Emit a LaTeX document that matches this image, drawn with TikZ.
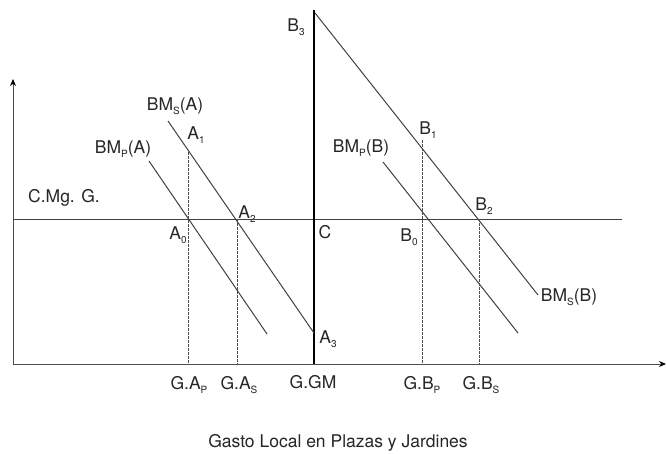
\documentclass[tikz,border=0pt]{standalone}
\usepackage{fontspec}
\setmainfont{TeX Gyre Heros}
\usetikzlibrary{arrows.meta}
\newcommand{\lowsub}[1]{\raisebox{-4.5pt}{\fontsize{10}{10}\selectfont #1}}

\begin{document}
\begin{tikzpicture}[x=1pt, y=-1pt, line width=0.8pt]
	\tikzstyle{axis}=[draw=black!70, line width=1pt]
	\tikzstyle{tip}=[-{Stealth[length=7pt,width=6pt,black]}]
	\tikzstyle{curve}=[draw=black!75, line width=1pt]
	\tikzstyle{guide}=[draw=black!70, line width=1pt, dash pattern=on 2.5pt off 1.5pt]
	\tikzstyle{lbl}=[inner sep=0pt, text=black!85, font=\fontsize{17.5}{20}\selectfont]
	\useasboundingbox (0,0) rectangle (666,453);
	
	% Draw the axes
	\coordinate (origin) at (13,364);
	\coordinate (ytop) at (13,79);
	\coordinate (xend) at (666,364);
	\path[axis] (origin) edge[tip] (ytop);
	\path[axis] (origin) edge[tip] (xend);
	
	% Draw the marginal cost line and the limit
	\coordinate (cmg_start) at (13,219);
	\coordinate (cmg_end) at (622,219);
	\path[curve] (cmg_start) edge (cmg_end);
	\coordinate (gm_top) at (314,10);
	\coordinate (gm_bot) at (314,364);
	\path[draw=black, line width=1.8pt] (gm_top) edge (gm_bot);
	
	% Draw the benefit lines
	\coordinate (bmsa_start) at (168,121);
	\coordinate (a3) at (314,333);
	\coordinate (bmpa_start) at (149,161);
	\coordinate (bmpa_end) at (267,334);
	\coordinate (b3) at (315,13);
	\coordinate (bmsb_end) at (538,295);
	\coordinate (bmpb_start) at (383,162);
	\coordinate (bmpb_end) at (518,333);
	\path[curve] (bmsa_start) edge (a3);
	\path[curve] (bmpa_start) edge (bmpa_end);
	\path[curve] (b3) edge (bmsb_end);
	\path[curve] (bmpb_start) edge (bmpb_end);
	
	% Draw the dotted guides
	\coordinate (a1) at (188,152);
	\coordinate (a2) at (237,219);
	\coordinate (b1) at (422,140);
	\coordinate (b2) at (479,219);
	\coordinate (gap) at (188,364);
	\coordinate (gas) at (237,364);
	\coordinate (gbp) at (422,364);
	\coordinate (gbs) at (479,364);
	\path[guide] (a1) edge (gap);
	\path[guide] (a2) edge (gas);
	\path[guide] (b1) edge (gbp);
	\path[guide] (b2) edge (gbs);
	
	% Annotate the lines
	\node[lbl] (l_bmsa) at (175,106) {BM\lowsub{S}(A)};
	\node[lbl] (l_bmpa) at (123,149) {BM\lowsub{P}(A)};
	\node[lbl] (l_bmpb) at (361,148) {BM\lowsub{P}(B)};
	\node[lbl] (l_bmsb) at (569,297) {BM\lowsub{S}(B)};
	\node[lbl] (l_cmg) at (64,198) {C.Mg. G.};
	
	% Annotate the points
	\node[lbl] (l_a1) at (196,135) {A\lowsub{1}};
	\node[lbl] (l_a2) at (247,214) {A\lowsub{2}};
	\node[lbl] (l_a0) at (178,235) {A\lowsub{0}};
	\node[lbl] (l_a3) at (328,339) {A\lowsub{3}};
	\node[lbl] (l_c) at (325,232) {C};
	\node[lbl] (l_b3) at (296,27) {B\lowsub{3}};
	\node[lbl] (l_b1) at (428,130) {B\lowsub{1}};
	\node[lbl] (l_b2) at (484,206) {B\lowsub{2}};
	\node[lbl] (l_b0) at (409,237) {B\lowsub{0}};
	
	% Annotate the axis
	\node[lbl] (l_gap) at (189,385) {G.A\lowsub{P}};
	\node[lbl] (l_gas) at (239,385) {G.A\lowsub{S}};
	\node[lbl] (l_ggm) at (313,382) {G.GM};
	\node[lbl] (l_gbp) at (422,385) {G.B\lowsub{P}};
	\node[lbl] (l_gbs) at (481,385) {G.B\lowsub{S}};
	\node[lbl] (l_title) at (338,443) {Gasto Local en Plazas y Jardines};
\end{tikzpicture}
\end{document}
